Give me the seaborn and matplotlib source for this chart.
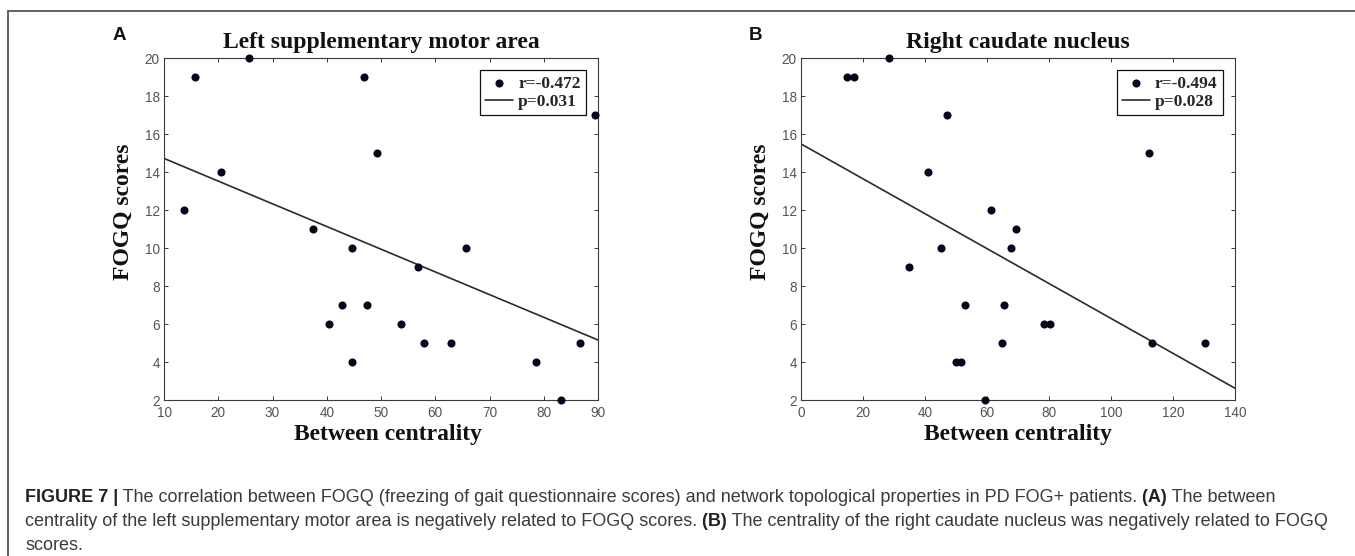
import matplotlib
matplotlib.use("Agg")
import matplotlib.pyplot as plt
import matplotlib.lines as mlines
import seaborn as sns

# Panel A: left supplementary motor area
sma_centrality = [15.8, 25.6, 46.9, 49.2, 20.5, 89.5, 13.75, 37.4, 44.6, 65.6, 56.9,
                  42.9, 47.5, 40.5, 53.6, 58.0, 62.9, 44.6, 78.5, 83.1, 86.6]
sma_fogq = [19, 20, 19, 15, 14, 17, 12, 11, 10, 10, 9,
            7, 7, 6, 6, 5, 5, 4, 4, 2, 5]

# Panel B: right caudate nucleus
cau_centrality = [14.7, 17.2, 28.5, 47.1, 41.0, 112.2, 61.2, 69.5, 45.1, 67.9, 34.7,
                  52.8, 65.4, 78.5, 80.3, 64.7, 113.2, 130.4, 50.0, 51.5, 59.3]
cau_fogq = [19, 19, 20, 17, 14, 15, 12, 11, 10, 10, 9,
            7, 7, 6, 6, 5, 5, 5, 4, 4, 2]

titles = ["Left supplementary motor area", "Right caudate nucleus"]
panel_letters = ["A", "B"]
r_labels = ["r=-0.472", "r=-0.494"]
p_labels = ["p=0.031", "p=0.028"]
x_ticks_a = list(range(10, 91, 10))
x_ticks_b = list(range(0, 141, 20))
y_ticks = list(range(2, 21, 2))

caption_lines = [
    [("FIGURE 7 |", True),
     (" The correlation between FOGQ (freezing of gait questionnaire scores) and network topological properties in PD FOG+ patients.", False),
     (" (A)", True), (" The between", False)],
    [("centrality of the left supplementary motor area is negatively related to FOGQ scores.", False),
     (" (B)", True),
     (" The centrality of the right caudate nucleus was negatively related to FOGQ", False)],
    [("scores.", False)],
]

sns.set_style("ticks")
plt.rcParams["font.family"] = ["Liberation Sans", "DejaVu Sans"]

W, H = 1355, 556
fig = plt.figure(figsize=(W / 100, H / 100), dpi=100)
fig.patch.set_facecolor("white")

serif = ["Liberation Serif", "DejaVu Serif"]
dot_color = "#03061a"
line_color = "#2b2b2b"
spine_color = "#3a3a3a"

panels = [
    (164, sma_centrality, sma_fogq, (10, 90), x_ticks_a, 0.516),
    (801, cau_centrality, cau_fogq, (0, 140), x_ticks_b, 0.5),
]

for i, (left_px, xs, ys, xlim, xticks, xlab_pos) in enumerate(panels):
    ax = fig.add_axes([left_px / W, 1 - 400 / H, 434 / W, 342 / H])
    ax.set_xlim(*xlim)
    ax.set_ylim(2, 20)
    sns.regplot(x=xs, y=ys, ax=ax, ci=None, truncate=False,
                scatter_kws=dict(s=34, color=dot_color, alpha=1, linewidths=0,
                                 clip_on=False, zorder=3),
                line_kws=dict(color=line_color, lw=1.2))
    ax.set_xlim(*xlim)
    ax.set_ylim(2, 20)
    ax.set_xticks(xticks)
    ax.set_yticks(y_ticks)
    ax.tick_params(direction="in", length=3, width=0.7, colors=spine_color,
                   labelcolor="#555555", labelsize=9.8, top=True, right=True)
    ax.tick_params(axis="x", pad=4)
    ax.tick_params(axis="y", pad=3)
    for sp in ax.spines.values():
        sp.set_visible(True)
        sp.set_color(spine_color)
        sp.set_linewidth(0.8)

    ax.set_title(titles[i], family=serif, fontweight="bold", fontsize=17,
                 pad=7, color="#111111")
    ax.set_xlabel("Between centrality", family=serif, fontweight="bold",
                  fontsize=17, color="#111111")
    ax.set_ylabel("FOGQ scores", family=serif, fontweight="bold",
                  fontsize=17, color="#111111")
    ax.xaxis.set_label_coords(xlab_pos, -0.07)
    ax.yaxis.set_label_coords(-0.07, 0.55)

    handles = [ax.collections[0], ax.lines[0]]
    leg = ax.legend(handles, [r_labels[i], p_labels[i]], loc="upper right",
                    frameon=True, fancybox=False,
                    edgecolor="#111111", framealpha=1,
                    prop=dict(family=serif, weight="bold", size=12.5),
                    handlelength=1.6, handletextpad=0.3, borderaxespad=0.7,
                    borderpad=0.3, labelspacing=0.15, scatterpoints=1)
    leg.get_frame().set_linewidth(0.9)

    fig.text((119 if i == 0 else 756) / W, 1 - 36 / H, panel_letters[i],
             fontsize=13.5, fontweight="bold", ha="center", va="center",
             color="#111111")

# outer frame of the figure box
fig.add_artist(mlines.Line2D([8 / W, 1], [1 - 11 / H, 1 - 11 / H],
                             transform=fig.transFigure, color="#555555", lw=1.3))
fig.add_artist(mlines.Line2D([8 / W, 8 / W], [0, 1 - 11 / H],
                             transform=fig.transFigure, color="#555555", lw=1.3))

# caption with bold runs
renderer = fig.canvas.get_renderer()
line_y = [497, 521, 546]
for runs, y_px in zip(caption_lines, line_y):
    x = 25 / W
    for text, bold in runs:
        t = fig.text(x, 1 - y_px / H, text, fontsize=12.95,
                     fontweight="bold" if bold else "normal",
                     color="#222222" if bold else "#3a3a3a",
                     ha="left", va="center")
        x += t.get_window_extent(renderer).width / W

fig.savefig("out.png", dpi=100)
